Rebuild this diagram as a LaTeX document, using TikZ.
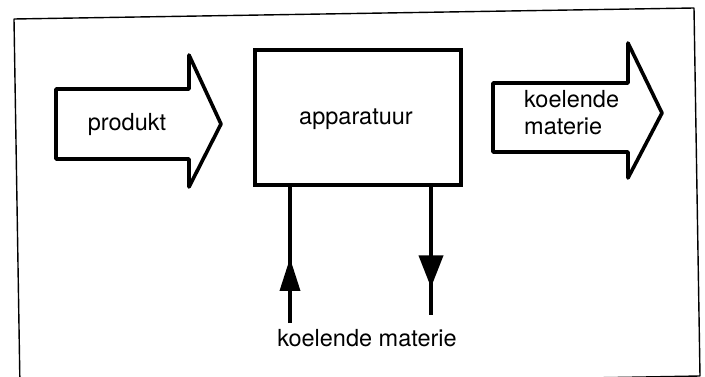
\documentclass[tikz,border=0pt]{standalone}
\usepackage{fontspec}
\setmainfont{TeX Gyre Heros}
\usetikzlibrary{arrows.meta,decorations.markings}
\begin{document}
\begin{tikzpicture}[x=1pt,y=-1pt,
  frameline/.style={line width=1.4pt,line join=round},
  blockarrow/.style={draw,line width=3.6pt,line join=round,fill=white},
  boxstyle/.style={draw,line width=4pt,minimum width=206pt,minimum height=135pt,inner sep=0pt},
  label/.style={font=\fontsize{23.5}{27}\selectfont,inner sep=0pt},
  flow/.style={line width=3.6pt,postaction={decorate}}
]
\useasboundingbox (0,0) rectangle (705,377);
\begin{scope}
\clip (0,0) rectangle (705,377);
\draw[frameline] (14,19) -- (694,8) -- (700,376) -- (20,388) -- cycle;
\end{scope}

% block arrows
\draw[blockarrow] (56,89) -- (189,89) -- (189,55) -- (221,124) -- (189,187) -- (189,159) -- (56,159) -- cycle;
\draw[blockarrow] (493,83) -- (628,83) -- (628,43) -- (662,113) -- (628,178) -- (628,152) -- (493,152) -- cycle;

\node[label] (produkt) at (127,124) {produkt};
\node[label,anchor=west,align=left] (koelout) at (524,113) {koelende\\materie};

% apparatus box
\node[boxstyle] (app) at (358,117.5) {};
\node[label] (apptext) at (356,119) {apparatuur};

% cooling lines
\coordinate (cin) at (290,323);
\coordinate (cout) at (431,315);
\draw[flow,decoration={markings,mark=at position 0.478 with {\arrow{Triangle[width=20pt,length=33pt]}}}]
  (cin) -- (cin |- app.south);
\draw[flow,decoration={markings,mark=at position 0.785 with {\arrow{Triangle[width=24pt,length=32pt]}}}]
  (app.south -| cout) -- (cout);

\node[label] (koelin) at (367,338) {koelende materie};
\end{tikzpicture}
\end{document}
